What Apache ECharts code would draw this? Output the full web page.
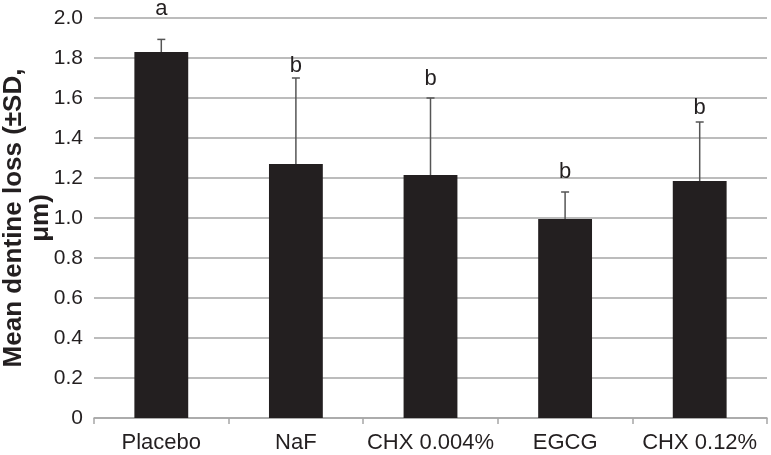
<!DOCTYPE html>
<html>
<head>
<meta charset="utf-8">
<script src="https://cdn.jsdelivr.net/npm/echarts@6/dist/echarts.min.js"></script>
<style>html,body{margin:0;padding:0;background:#fff}#c{width:771px;height:455px}</style>
</head>
<body>
<div id="c"></div>
<script>
var categories = ['Placebo', 'NaF', 'CHX 0.004%', 'EGCG', 'CHX 0.12%'];
var means = [1.83, 1.27, 1.215, 0.995, 1.185];
var sds = [0.063, 0.43, 0.385, 0.135, 0.295];
var letters = ['a', 'b', 'b', 'b', 'b'];
var letterLevels = [2.015, 1.73, 1.665, 1.20, 1.52];
var yTicks = [0, 0.2, 0.4, 0.6, 0.8, 1.0, 1.2, 1.4, 1.6, 1.8, 2.0];

var errData = means.map(function (m, i) { return [i, m, m + sds[i], letterLevels[i], letters[i]]; });

var chart = echarts.init(document.getElementById('c'));
chart.setOption({
  animation: false,
  grid: { left: 94, right: 4, top: 18, bottom: 37, outerBoundsMode: 'none', containLabel: false },
  xAxis: {
    type: 'category',
    data: categories,
    axisLine: { show: true, lineStyle: { color: '#a6a6a6', width: 1.5 } },
    axisTick: { show: true, length: 6, lineStyle: { color: '#a6a6a6', width: 1.5 } },
    axisLabel: { interval: 0, color: '#231f20', fontSize: 22, fontFamily: 'Liberation Sans, Arial', margin: 14 }
  },
  yAxis: {
    type: 'value',
    min: 0, max: 2.0, interval: 0.2,
    name: 'Mean dentine loss (±SD,\nμm)',
    nameLocation: 'middle',
    nameGap: 40,
    nameMoveOverlap: false,
    nameTextStyle: { color: '#231f20', fontSize: 26, fontWeight: 'bold', fontFamily: 'Liberation Sans, Arial', lineHeight: 27, align: 'center' },
    axisLine: { show: false },
    axisTick: { show: false },
    splitLine: { lineStyle: { color: '#a6a6a6', width: 1.5 } },
    axisLabel: {
      color: '#231f20', fontSize: 21, fontFamily: 'Liberation Sans, Arial', margin: 11,
      formatter: function (v) { return v === 0 ? '0' : v.toFixed(1); }
    }
  },
  series: [
    {
      type: 'bar',
      data: means,
      barWidth: '40%',
      itemStyle: { color: '#231f20' }
    },
    {
      type: 'custom',
      data: errData,
      z: 5,
      clip: false,
      renderItem: function (params, api) {
        var base = api.coord([api.value(0), api.value(1)]);
        var top = api.coord([api.value(0), api.value(2)]);
        var lab = api.coord([api.value(0), api.value(3)]);
        var half = 4;
        return {
          type: 'group',
          children: [
            { type: 'line', shape: { x1: base[0], y1: base[1], x2: top[0], y2: top[1] }, style: { stroke: '#555', lineWidth: 1.5 } },
            { type: 'line', shape: { x1: top[0] - half, y1: top[1], x2: top[0] + half, y2: top[1] }, style: { stroke: '#555', lineWidth: 1.5 } },
            { type: 'text', x: lab[0], y: lab[1] + 5, style: { text: api.value(4), fill: '#231f20', fontSize: 22, fontFamily: 'Liberation Sans, Arial', align: 'center', verticalAlign: 'bottom' } }
          ]
        };
      }
    }
  ]
});
</script>
</body>
</html>
